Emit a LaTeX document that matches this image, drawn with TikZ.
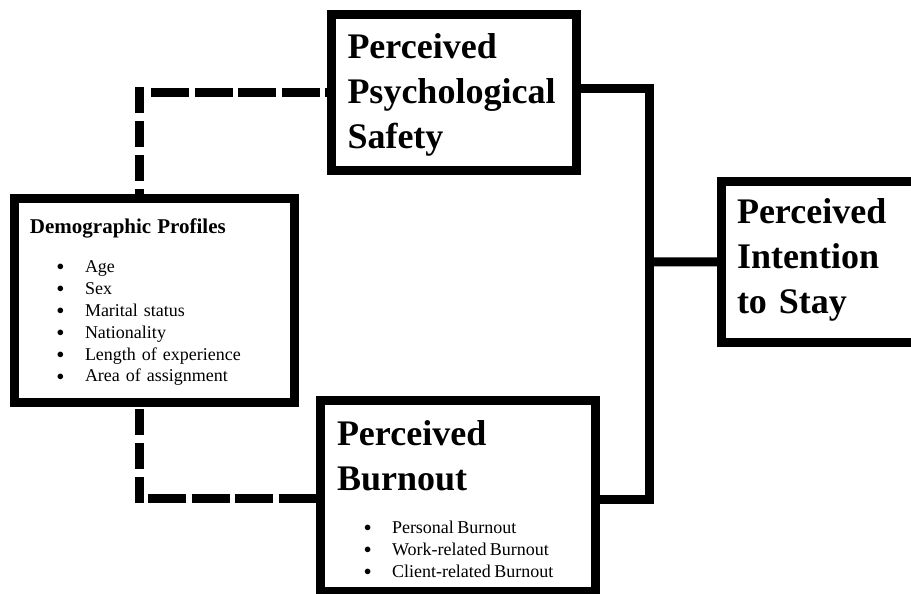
\documentclass[tikz,border=0pt]{standalone}
\usepackage{fontspec}
\setmainfont{Liberation Serif}
\newcommand{\listitem}[1]{\hspace*{27pt}\makebox[28pt][l]{\fontsize{14.4}{18}\selectfont\raisebox{1.5pt}{$\bullet$}}#1}

\begin{document}
\begin{tikzpicture}[x=1pt, y=-1pt,
		box/.style={draw, line width=9pt, anchor=north west, inner xsep=16.5pt, inner ysep=0pt, outer sep=0pt, align=left},
		titlefont/.style={font=\fontsize{36}{45}\selectfont\bfseries},
		listfont/.style={font=\fontsize{18}{22}\selectfont},
		link/.style={line width=9pt},
		dashedh/.style={line width=9pt, dash pattern=on 38pt off 5.5pt},
		dashedv/.style={line width=9pt, dash pattern=on 26pt off 8pt}]
			\useasboundingbox (0, 0) rectangle (911, 594);
			\clip (0, 0) rectangle (911, 594);
			\node[box, titlefont, text width=212pt, text height=44.5pt, text depth=111pt] (pps) at (331, 14.5) {Perceived\\Psychological\\Safety};
			\node[box, titlefont, inner xsep=16pt, text width=171pt, text height=42pt, text depth=119.5pt] (pis) at (721, 181) {Perceived\\Intention\\to Stay};
			\node[box, listfont, inner xsep=16pt, text width=248.5pt, text height=35pt, text depth=169pt] (demo) at (14, 198) {{\fontsize{21}{22}\selectfont\bfseries Demographic Profiles}\\[17pt]\listitem{Age}\\\listitem{Sex}\\\listitem{Marital status}\\\listitem{Nationality}\\\listitem{Length of experience}\\\listitem{Area of assignment}};
			\node[box, text width=241.5pt, text height=44.5pt, text depth=146pt] (burnout) at (320.5, 400.5) {\fontsize{36}{45}\selectfont\bfseries Perceived\par Burnout\par\vspace{21pt}\fontsize{18}{22}\selectfont\mdseries\listitem{Personal Burnout}\par\listitem{Work-related Burnout}\par\listitem{Client-related Burnout}\par};
			\coordinate (bus) at (649, 262);
			\coordinate (hl) at (151, 92.5);
			\coordinate (vt) at (139, 87);
			\coordinate (vb) at (139, 503);
			\coordinate (hb) at (148, 498.5);
			\draw[link] ([yshift=3.75pt]pps.east) -| (bus) |- ([yshift=-3.75pt]burnout.east);
			\draw[link] (bus) -- (pis.west);
			\draw[dashedh] (hl) -- (hl -| pps.west);
			\draw[dashedv] (vt) -- (vt |- demo.north);
			\draw[dashedv] (vb) -- (vb |- demo.south);
			\draw[dashedh] (hb) -- (hb -| burnout.west);
		\end{tikzpicture}
\end{document}
